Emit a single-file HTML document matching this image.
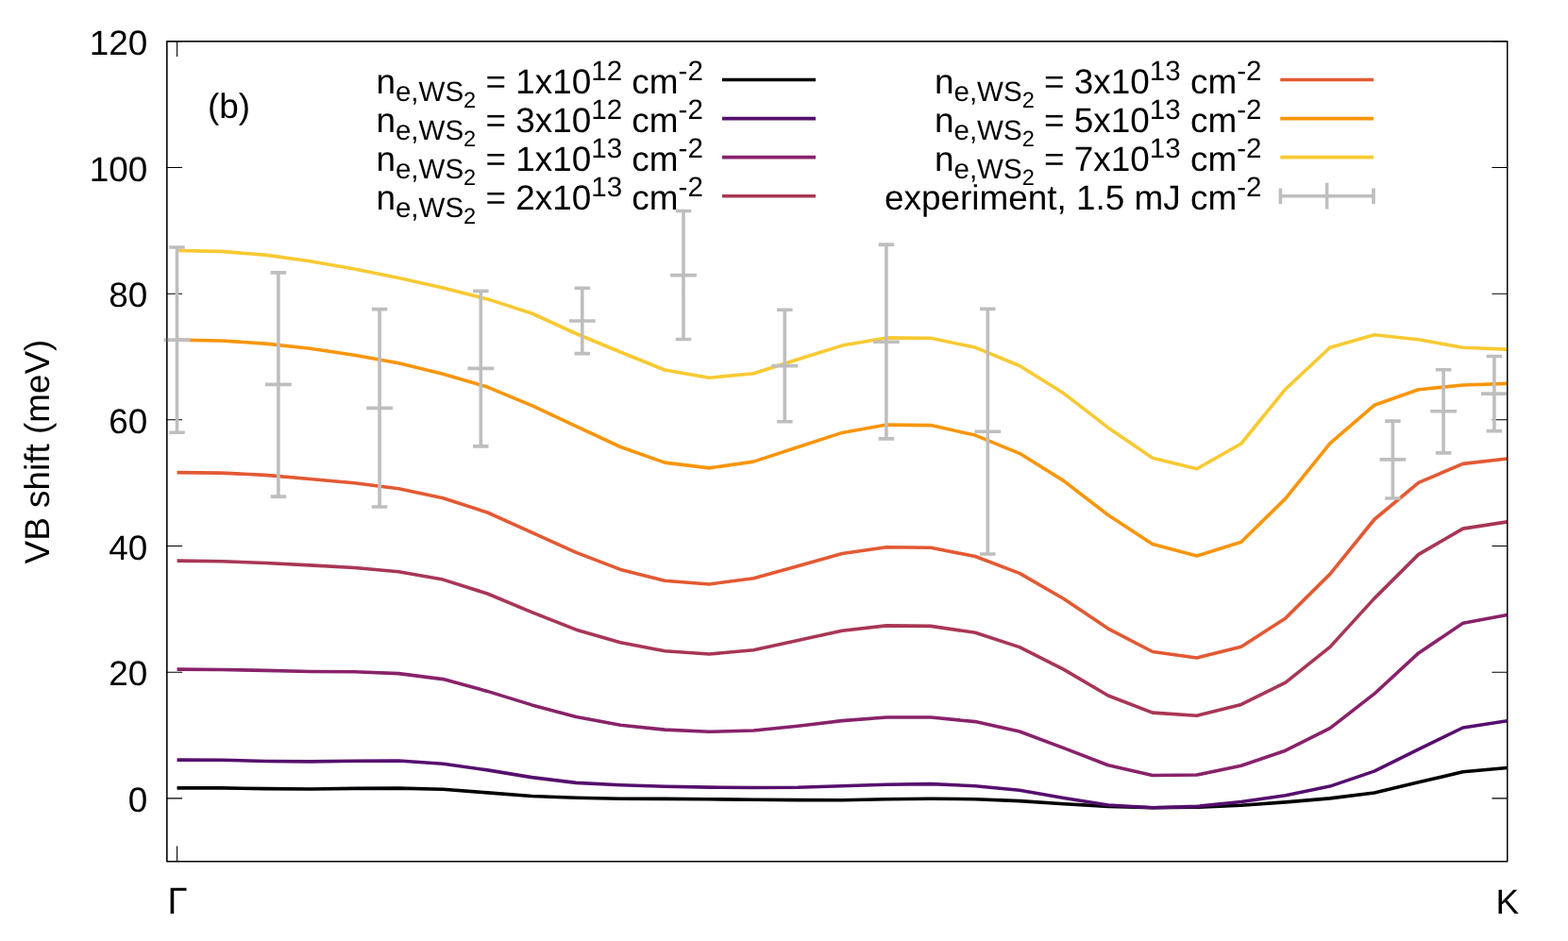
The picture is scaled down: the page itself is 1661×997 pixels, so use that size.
<!DOCTYPE html>
<html lang="en"><head><meta charset="utf-8"><title>VB shift</title>
<style>
html,body{margin:0;padding:0;background:#fff;}
body{width:1661px;height:997px;overflow:hidden;}
svg{display:block;}
text{font-family:"Liberation Sans",sans-serif;fill:#000;text-rendering:geometricPrecision;}
</style></head><body>
<svg width="1661" height="997" viewBox="0 0 1661 997">
<rect x="0" y="0" width="1661" height="997" fill="#ffffff"/>
<g stroke="#000" stroke-width="1.05" fill="none">
<path d="M176.80 845.86H193.10 M1596.70 845.86H1580.40"/>
<path d="M176.80 712.18H193.10 M1596.70 712.18H1580.40"/>
<path d="M176.80 578.51H193.10 M1596.70 578.51H1580.40"/>
<path d="M176.80 444.83H193.10 M1596.70 444.83H1580.40"/>
<path d="M176.80 311.15H193.10 M1596.70 311.15H1580.40"/>
<path d="M176.80 177.48H193.10 M1596.70 177.48H1580.40"/>
<path d="M176.80 43.80H193.10 M1596.70 43.80H1580.40"/>
<path d="M187.55 912.70V896.40 M187.55 43.80V60.10"/>
<rect x="176.80" y="43.80" width="1419.90" height="868.90" stroke-width="1.15"/>
</g>
<g font-size="36.90" text-anchor="end">
<text x="156.40" y="859.96">0</text>
<text x="156.40" y="726.28">20</text>
<text x="156.40" y="592.61">40</text>
<text x="156.40" y="458.93">60</text>
<text x="156.40" y="325.25">80</text>
<text x="156.40" y="191.58">100</text>
<text x="156.40" y="57.90">120</text>
</g>
<text font-size="38.30" text-anchor="middle" transform="translate(188.10 967.80) scale(1 1.03)">&#915;</text>
<text font-size="36.90" text-anchor="middle" x="1596.70" y="968.00">K</text>
<text font-size="36.90" text-anchor="middle" transform="translate(51.60 478.50) rotate(-90)">VB shift (meV)</text>
<text font-size="36.90" x="219.90" y="125.00">(b)</text>
<text text-anchor="end" x="744.80" y="98.60" font-size="36.90">n<tspan font-size="29.52" dy="8.10">e,WS</tspan><tspan font-size="23.62" dy="7.40">2</tspan><tspan dy="-15.50" xml:space="preserve"> = 1x10</tspan><tspan font-size="29.52" dy="-13.80">12</tspan><tspan dy="13.80" xml:space="preserve"> cm</tspan><tspan font-size="29.52" dy="-13.80">-2</tspan></text>
<path d="M765 84.50H864" stroke="#000004" stroke-width="3.60" fill="none"/>
<text text-anchor="end" x="744.80" y="139.70" font-size="36.90">n<tspan font-size="29.52" dy="8.10">e,WS</tspan><tspan font-size="23.62" dy="7.40">2</tspan><tspan dy="-15.50" xml:space="preserve"> = 3x10</tspan><tspan font-size="29.52" dy="-13.80">12</tspan><tspan dy="13.80" xml:space="preserve"> cm</tspan><tspan font-size="29.52" dy="-13.80">-2</tspan></text>
<path d="M765 125.60H864" stroke="#550f6d" stroke-width="3.60" fill="none"/>
<text text-anchor="end" x="744.80" y="180.70" font-size="36.90">n<tspan font-size="29.52" dy="8.10">e,WS</tspan><tspan font-size="23.62" dy="7.40">2</tspan><tspan dy="-15.50" xml:space="preserve"> = 1x10</tspan><tspan font-size="29.52" dy="-13.80">13</tspan><tspan dy="13.80" xml:space="preserve"> cm</tspan><tspan font-size="29.52" dy="-13.80">-2</tspan></text>
<path d="M765 166.60H864" stroke="#88226a" stroke-width="3.60" fill="none"/>
<text text-anchor="end" x="744.80" y="221.80" font-size="36.90">n<tspan font-size="29.52" dy="8.10">e,WS</tspan><tspan font-size="23.62" dy="7.40">2</tspan><tspan dy="-15.50" xml:space="preserve"> = 2x10</tspan><tspan font-size="29.52" dy="-13.80">13</tspan><tspan dy="13.80" xml:space="preserve"> cm</tspan><tspan font-size="29.52" dy="-13.80">-2</tspan></text>
<path d="M765 207.70H864" stroke="#a83655" stroke-width="3.60" fill="none"/>
<text text-anchor="end" x="1336.40" y="98.60" font-size="36.90">n<tspan font-size="29.52" dy="8.10">e,WS</tspan><tspan font-size="23.62" dy="7.40">2</tspan><tspan dy="-15.50" xml:space="preserve"> = 3x10</tspan><tspan font-size="29.52" dy="-13.80">13</tspan><tspan dy="13.80" xml:space="preserve"> cm</tspan><tspan font-size="29.52" dy="-13.80">-2</tspan></text>
<path d="M1356.2 84.50H1455" stroke="#e35933" stroke-width="3.60" fill="none"/>
<text text-anchor="end" x="1336.40" y="139.70" font-size="36.90">n<tspan font-size="29.52" dy="8.10">e,WS</tspan><tspan font-size="23.62" dy="7.40">2</tspan><tspan dy="-15.50" xml:space="preserve"> = 5x10</tspan><tspan font-size="29.52" dy="-13.80">13</tspan><tspan dy="13.80" xml:space="preserve"> cm</tspan><tspan font-size="29.52" dy="-13.80">-2</tspan></text>
<path d="M1356.2 125.60H1455" stroke="#f9950a" stroke-width="3.60" fill="none"/>
<text text-anchor="end" x="1336.40" y="180.70" font-size="36.90">n<tspan font-size="29.52" dy="8.10">e,WS</tspan><tspan font-size="23.62" dy="7.40">2</tspan><tspan dy="-15.50" xml:space="preserve"> = 7x10</tspan><tspan font-size="29.52" dy="-13.80">13</tspan><tspan dy="13.80" xml:space="preserve"> cm</tspan><tspan font-size="29.52" dy="-13.80">-2</tspan></text>
<path d="M1356.2 166.60H1455" stroke="#f8c932" stroke-width="3.60" fill="none"/>
<text text-anchor="end" x="1336.40" y="221.80" font-size="36.90" xml:space="preserve">experiment, 1.5 mJ cm<tspan font-size="29.52" dy="-13.80">-2</tspan></text>
<path d="M1356.4 207.70H1455 M1356.4 199.50V215.90 M1455 199.50V215.90 M1405.6 193.80V221.60" stroke="#BEBEBE" stroke-width="3.60" fill="none"/>
<polyline points="187.55,834.90 234.52,834.90 281.49,835.60 328.46,836.00 375.43,835.40 422.40,835.10 469.37,836.30 516.34,839.90 563.31,843.50 610.28,845.30 657.25,846.20 704.22,846.40 751.19,846.80 798.16,847.20 845.13,847.60 892.10,847.70 939.07,846.80 986.04,846.30 1033.01,846.70 1079.98,848.60 1126.95,851.70 1173.92,854.40 1220.89,855.70 1267.86,855.30 1314.83,853.20 1361.80,849.90 1408.77,845.90 1455.74,840.00 1502.71,828.80 1549.68,817.80 1596.65,813.50" fill="none" stroke="#000004" stroke-width="3.60" stroke-linejoin="round" stroke-linecap="butt"/>
<polyline points="187.55,805.10 234.52,805.20 281.49,806.50 328.46,806.90 375.43,806.20 422.40,806.00 469.37,809.20 516.34,815.90 563.31,823.60 610.28,829.40 657.25,831.80 704.22,833.20 751.19,834.10 798.16,834.50 845.13,834.20 892.10,832.70 939.07,831.30 986.04,830.60 1033.01,832.70 1079.98,837.30 1126.95,845.40 1173.92,853.00 1220.89,855.70 1267.86,854.40 1314.83,849.50 1361.80,842.70 1408.77,833.10 1455.74,817.10 1502.71,793.90 1549.68,771.00 1596.65,763.80" fill="none" stroke="#550f6d" stroke-width="3.60" stroke-linejoin="round" stroke-linecap="butt"/>
<polyline points="187.55,709.10 234.52,709.50 281.49,710.40 328.46,711.50 375.43,711.80 422.40,713.60 469.37,719.60 516.34,732.40 563.31,746.90 610.28,759.50 657.25,768.20 704.22,773.10 751.19,775.30 798.16,774.00 845.13,769.20 892.10,763.60 939.07,760.00 986.04,760.00 1033.01,764.60 1079.98,775.00 1126.95,792.60 1173.92,810.70 1220.89,821.50 1267.86,821.00 1314.83,811.20 1361.80,795.20 1408.77,771.70 1455.74,735.20 1502.71,691.90 1549.68,660.30 1596.65,651.60" fill="none" stroke="#88226a" stroke-width="3.60" stroke-linejoin="round" stroke-linecap="butt"/>
<polyline points="187.55,594.10 234.52,594.70 281.49,596.50 328.46,598.90 375.43,601.50 422.40,605.70 469.37,614.10 516.34,629.00 563.31,648.60 610.28,667.20 657.25,680.70 704.22,689.80 751.19,693.00 798.16,688.70 845.13,678.60 892.10,668.30 939.07,662.90 986.04,663.40 1033.01,670.30 1079.98,685.60 1126.95,709.40 1173.92,737.00 1220.89,755.10 1267.86,758.20 1314.83,746.40 1361.80,723.20 1408.77,685.60 1455.74,634.10 1502.71,587.40 1549.68,560.10 1596.65,552.90" fill="none" stroke="#a83655" stroke-width="3.60" stroke-linejoin="round" stroke-linecap="butt"/>
<polyline points="187.55,500.60 234.52,501.10 281.49,503.40 328.46,507.50 375.43,511.70 422.40,517.80 469.37,527.80 516.34,543.00 563.31,564.10 610.28,585.40 657.25,603.40 704.22,615.20 751.19,619.00 798.16,612.70 845.13,599.70 892.10,586.50 939.07,579.80 986.04,580.30 1033.01,589.50 1079.98,607.40 1126.95,634.50 1173.92,666.10 1220.89,690.50 1267.86,697.00 1314.83,685.20 1361.80,654.90 1408.77,608.40 1455.74,550.50 1502.71,511.30 1549.68,491.40 1596.65,486.00" fill="none" stroke="#e35933" stroke-width="3.60" stroke-linejoin="round" stroke-linecap="butt"/>
<polyline points="187.55,360.10 234.52,361.00 281.49,364.10 328.46,369.20 375.43,376.30 422.40,384.80 469.37,396.20 516.34,410.10 563.31,429.60 610.28,451.60 657.25,473.50 704.22,490.10 751.19,495.90 798.16,489.10 845.13,473.70 892.10,458.40 939.07,450.10 986.04,450.60 1033.01,461.10 1079.98,480.30 1126.95,509.60 1173.92,545.70 1220.89,576.50 1267.86,589.00 1314.83,574.30 1361.80,528.10 1408.77,469.90 1455.74,429.30 1502.71,412.70 1549.68,408.00 1596.65,406.40" fill="none" stroke="#f9950a" stroke-width="3.60" stroke-linejoin="round" stroke-linecap="butt"/>
<polyline points="187.55,265.50 234.52,266.40 281.49,270.10 328.46,276.70 375.43,284.90 422.40,294.60 469.37,304.90 516.34,316.90 563.31,332.00 610.28,353.50 657.25,373.00 704.22,392.00 751.19,400.20 798.16,395.70 845.13,380.70 892.10,366.10 939.07,357.90 986.04,358.30 1033.01,368.10 1079.98,387.50 1126.95,416.80 1173.92,453.20 1220.89,485.30 1267.86,496.70 1314.83,470.00 1361.80,412.20 1408.77,368.30 1455.74,354.70 1502.71,359.80 1549.68,368.30 1596.65,370.10" fill="none" stroke="#f8c932" stroke-width="3.60" stroke-linejoin="round" stroke-linecap="butt"/>
<path d="M187.50 262.00V458.20 M179.25 262.00H195.75 M179.25 458.20H195.75 M173.60 360.10H201.40 M294.90 288.90V526.10 M286.65 288.90H303.15 M286.65 526.10H303.15 M281.00 407.40H308.80 M402.10 327.60V537.00 M393.85 327.60H410.35 M393.85 537.00H410.35 M388.20 432.40H416.00 M509.30 308.40V472.90 M501.05 308.40H517.55 M501.05 472.90H517.55 M495.40 390.40H523.20 M616.80 305.30V374.60 M608.55 305.30H625.05 M608.55 374.60H625.05 M602.90 340.00H630.70 M724.00 223.50V359.50 M715.75 223.50H732.25 M715.75 359.50H732.25 M710.10 291.60H737.90 M831.30 328.30V446.80 M823.05 328.30H839.55 M823.05 446.80H839.55 M817.40 387.60H845.20 M938.90 259.10V464.90 M930.65 259.10H947.15 M930.65 464.90H947.15 M925.00 362.30H952.80 M1046.30 327.40V587.00 M1038.05 327.40H1054.55 M1038.05 587.00H1054.55 M1032.40 457.30H1060.20 M1475.40 446.10V528.00 M1467.15 446.10H1483.65 M1467.15 528.00H1483.65 M1461.50 486.90H1489.30 M1529.10 391.80V479.90 M1520.85 391.80H1537.35 M1520.85 479.90H1537.35 M1515.20 435.80H1543.00 M1582.90 377.50V456.60 M1574.65 377.50H1591.15 M1574.65 456.60H1591.15 M1569.00 417.10H1596.80" stroke="#BEBEBE" stroke-width="3.60" fill="none"/>
<rect x="176.80" y="43.80" width="1419.90" height="868.90" fill="none" stroke="#000" stroke-width="1.15"/>
</svg></body></html>
